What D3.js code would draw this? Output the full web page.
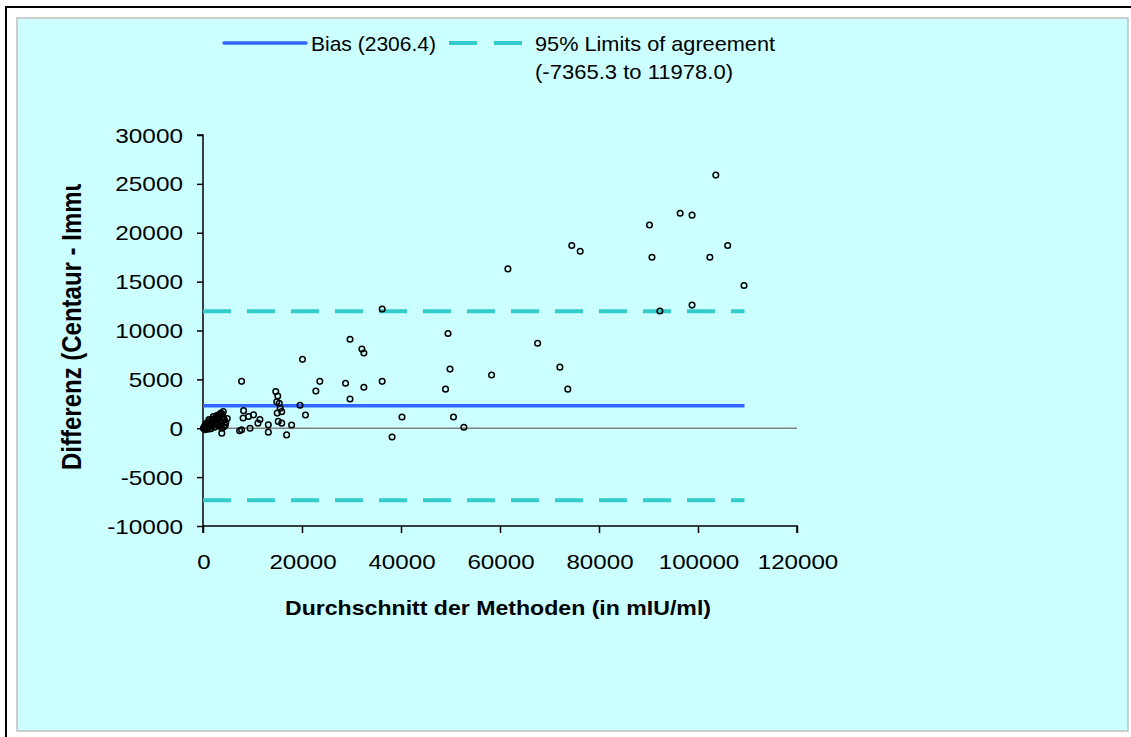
<!DOCTYPE html>
<html>
<head>
<meta charset="utf-8">
<script src="https://cdn.jsdelivr.net/npm/d3@7"></script>
<style>
  html, body { margin: 0; padding: 0; background: #ffffff; }
  svg { display: block; }
  text { font-family: "Liberation Sans", Arial, sans-serif; fill: #000; }
</style>
</head>
<body>
<svg id="chart" width="1131" height="737"></svg>
<script>
// ---- Data ----
const avgValues = [
  103600, 96400, 98800, 90200, 74500, 76200, 106000, 90700, 102400, 109300,
  98800, 92300, 67600, 72100, 73700, 36200, 49500, 29700, 32100, 32500,
  20100, 49900, 58300, 23600, 36200, 28800, 22800, 32500, 49000, 29700,
  19600, 20700, 40200, 50600, 52700, 38200, 61600,
  7800, 14700, 15100, 14900, 15400, 15600, 15900, 15000, 15200, 15900,
  17900, 16900, 8200, 8100, 9200, 10200, 11500, 11100, 13200, 13200,
  7400, 9500, 7800,
  4100, 2100, 3800, 3800, 3500, 3200, 2900, 2600, 3400, 4000,
  4300, 3700, 3000, 2400, 2000, 1700, 1400, 1100, 900, 700,
  500, 300, 200, 150, 100, 600, 800, 1200, 1500, 1800,
  2200, 2500, 2800, 4600, 4900, 1000, 1600, 2300, 400, 1300,
  3300, 4500, 3600, 3900, 2700, 3100, 1900, 800, 450, 250,
  1200, 2000, 3500, 4200
];
const diffValues = [
  25900, 22000, 21800, 20800, 18700, 18100, 18700, 17500, 17500, 14600,
  12600, 12000, 8700, 6250, 4000, 12200, 9700, 9100, 8100, 7700,
  7050, 6050, 5450, 4800, 4800, 4600, 3800, 4200, 4000, 3000,
  2350, 1350, 1150, 1150, 100, -900, 16300,
  4800, 3750, 3300, 2700, 2550, 2050, 1700, 1550, 700, 520,
  330, -680, 1800, 1050, 1200, 1370, 900, 520, 350, -400,
  -250, 0, -160,
  1700, 1200, -500, 0, 1400, 1100, 900, 700, 800, 1200,
  900, 600, 500, 400, 300, 250, 200, 150, 100, 80,
  50, 30, 10, 5, 0, 200, 300, 400, 500, 600,
  800, 1000, 1300, 600, 1000, -100, -50, 100, -150, 700,
  200, 300, 1550, 1450, 1150, 1350, 950, 550, 350, 150,
  900, 500, 300, 150
];
const bias = 2306.4;
const lowerLimit = -7365.3;
const upperLimit = 11978.0;
const xTicks = [0, 20000, 40000, 60000, 80000, 100000, 120000];
const yTicks = [-10000, -5000, 0, 5000, 10000, 15000, 20000, 25000, 30000];
const xTitle = "Durchschnitt der Methoden (in mIU/ml)";
const yTitle = "Differenz (Centaur - Immulite)";
const legendBias = "Bias (2306.4)";
const legendLimits1 = "95% Limits of agreement";
const legendLimits2 = "(-7365.3 to 11978.0)";

// ---- Drawing ----
const svg = d3.select("#chart");

// outer frame
svg.append("rect").attr("x", 6).attr("y", 7).attr("width", 1140).attr("height", 760)
  .attr("fill", "#ffffff").attr("stroke", "#000").attr("stroke-width", 2);
// panel with grey edge
svg.append("rect").attr("x", 17).attr("y", 18).attr("width", 1111).attr("height", 713)
  .attr("fill", "#CCFFFF").attr("stroke", "#c0c0c0").attr("stroke-width", 1.5);

const x = d3.scaleLinear().domain([0, 120000]).range([203, 797]);
const y = d3.scaleLinear().domain([-10000, 30000]).range([526, 135]);

function stretchedText(g, str, px, py, sx, anchor, size, weight) {
  return g.append("text")
    .attr("transform", `translate(${px},${py}) scale(${sx},1)`)
    .attr("text-anchor", anchor)
    .attr("font-size", size)
    .attr("font-weight", weight || "normal")
    .text(str);
}

// zero line
svg.append("line").attr("x1", x(0)).attr("x2", x(120000))
  .attr("y1", y(0)).attr("y2", y(0))
  .attr("stroke", "#808080").attr("stroke-width", 1.5);

// axes
const yAxis = d3.axisLeft(y).tickValues(yTicks).tickSize(6).tickFormat("");
const gy = svg.append("g").attr("transform", `translate(${x(0)},0)`).call(yAxis);
gy.select(".domain").attr("stroke", "#000").attr("stroke-width", 1.5).attr("d", `M-6,${y(30000)}H0V${y(-10000) + 7}`);
gy.selectAll(".tick line").attr("stroke", "#000").attr("stroke-width", 1.5);

const xAxis = d3.axisBottom(x).tickValues(xTicks).tickSize(7).tickFormat("");
const gx = svg.append("g").attr("transform", `translate(0,${y(-10000)})`).call(xAxis);
gx.select(".domain").attr("stroke", "#000").attr("stroke-width", 1.5).attr("d", `M${x(0)},0H${x(120000)}V7`);
gx.selectAll(".tick line").attr("stroke", "#000").attr("stroke-width", 1.5);

// tick labels
const labels = svg.append("g");
yTicks.forEach(v => {
  stretchedText(labels, String(v), 183, y(v) + 7.5, 1.16, "end", 21);
});
xTicks.forEach(v => {
  stretchedText(labels, String(v), x(v) + 1, 569, 1.15, "middle", 21);
});

// axis titles
svg.append("text")
  .attr("x", 498).attr("y", 615)
  .attr("text-anchor", "middle")
  .attr("font-size", 21).attr("font-weight", "bold")
  .attr("textLength", 426).attr("lengthAdjust", "spacingAndGlyphs")
  .text(xTitle);

svg.append("clipPath").attr("id", "yclip")
  .append("rect").attr("x", 30).attr("y", 184).attr("width", 100).attr("height", 400);
svg.append("g").attr("clip-path", "url(#yclip)")
  .append("text")
  .attr("transform", `translate(81,470) rotate(-90) scale(1,1.12)`)
  .attr("text-anchor", "start")
  .attr("font-size", 24).attr("font-weight", "bold")
  .text(yTitle);

// bias and limits lines
const xEnd = 109300;
svg.append("line").attr("x1", x(0)).attr("x2", x(xEnd) + 0.5)
  .attr("y1", y(bias)).attr("y2", y(bias))
  .attr("stroke", "#3366FF").attr("stroke-width", 3.5);
[upperLimit, lowerLimit].forEach(v => {
  svg.append("line").attr("x1", x(0)).attr("x2", x(xEnd) + 0.5)
    .attr("y1", y(v)).attr("y2", y(v))
    .attr("stroke", "#33CCCC").attr("stroke-width", 4)
    .attr("stroke-dasharray", "28,16");
});

// points
svg.append("g").selectAll("circle")
  .data(avgValues.map((a, i) => [a, diffValues[i]]))
  .join("circle")
  .attr("cx", d => x(d[0]))
  .attr("cy", d => y(d[1]))
  .attr("r", 2.8)
  .attr("fill", "none")
  .attr("stroke", "#000")
  .attr("stroke-width", 1.5);

// legend
const lg = svg.append("g");
lg.append("line").attr("x1", 224).attr("x2", 306).attr("y1", 43).attr("y2", 43)
  .attr("stroke", "#3366FF").attr("stroke-width", 3.5).attr("stroke-linecap", "round");
lg.append("text").attr("x", 311).attr("y", 51).attr("font-size", 21)
  .attr("textLength", 125).attr("lengthAdjust", "spacingAndGlyphs").text(legendBias);
lg.append("line").attr("x1", 449).attr("x2", 523).attr("y1", 43).attr("y2", 43)
  .attr("stroke", "#33CCCC").attr("stroke-width", 4).attr("stroke-dasharray", "28,17");
lg.append("text").attr("x", 535).attr("y", 51).attr("font-size", 21)
  .attr("textLength", 240).attr("lengthAdjust", "spacingAndGlyphs").text(legendLimits1);
lg.append("text").attr("x", 535).attr("y", 79).attr("font-size", 21)
  .attr("textLength", 198).attr("lengthAdjust", "spacingAndGlyphs").text(legendLimits2);
</script>
</body>
</html>
